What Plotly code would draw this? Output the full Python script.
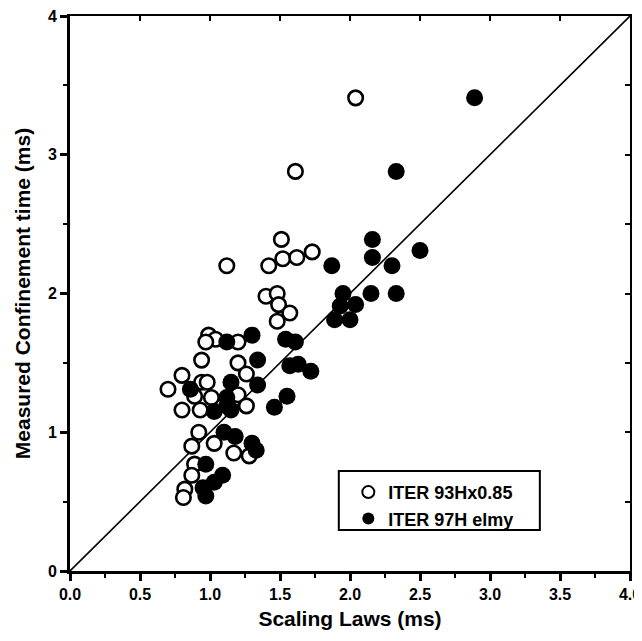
import plotly.graph_objects as go

# ITER 93Hx0.85 (open circles)
open_x = [2.04, 1.61, 1.51, 1.42, 1.52, 1.62, 1.73, 1.12, 1.40, 1.48, 1.49, 1.57, 1.48,
          0.99, 1.04, 1.20, 0.97, 0.94, 1.20, 1.26, 0.80, 0.70, 0.94, 0.89, 1.01, 1.20,
          0.80, 0.93, 1.26, 0.92, 0.87, 1.03, 1.17, 1.28, 0.89, 0.87, 0.82, 0.81, 0.98]
open_y = [3.41, 2.88, 2.39, 2.20, 2.25, 2.26, 2.30, 2.20, 1.98, 2.00, 1.92, 1.86, 1.80,
          1.70, 1.67, 1.65, 1.65, 1.52, 1.50, 1.42, 1.41, 1.31, 1.36, 1.26, 1.25, 1.27,
          1.16, 1.16, 1.19, 1.00, 0.90, 0.92, 0.85, 0.83, 0.77, 0.69, 0.59, 0.53, 1.36]

# ITER 97H elmy (filled circles)
fill_x = [2.89, 2.33, 2.16, 2.16, 2.30, 2.50, 1.87, 1.95, 2.15, 2.33, 2.04, 1.93, 1.89,
          2.00, 1.30, 1.54, 1.61, 1.12, 1.34, 1.63, 1.72, 1.57, 1.34, 1.15, 0.86, 1.12,
          1.15, 1.55, 1.46, 1.03, 1.12, 1.10, 1.18, 1.30, 1.33, 0.97, 1.09, 1.03, 0.95, 0.97]
fill_y = [3.41, 2.88, 2.39, 2.26, 2.20, 2.31, 2.20, 2.00, 2.00, 2.00, 1.92, 1.91, 1.81,
          1.81, 1.70, 1.67, 1.65, 1.65, 1.52, 1.49, 1.44, 1.48, 1.34, 1.36, 1.31, 1.25,
          1.16, 1.26, 1.18, 1.15, 1.19, 1.00, 0.97, 0.92, 0.87, 0.77, 0.69, 0.64, 0.60, 0.54]

diag = [0, 4]
x_ticks = [0, 0.5, 1, 1.5, 2, 2.5, 3, 3.5, 4]
y_ticks = [0, 1, 2, 3, 4]

font_family = "Liberation Sans, Arial, sans-serif"

fig = go.Figure()
fig.add_trace(go.Scatter(x=diag, y=diag, mode="lines", line=dict(color="black", width=1.6),
                         showlegend=False, hoverinfo="skip"))
fig.add_trace(go.Scatter(x=open_x, y=open_y, mode="markers", name="<b>ITER 93Hx0.85</b>",
                         marker=dict(symbol="circle", size=14.5, color="white",
                                     line=dict(color="black", width=2.6))))
fig.add_trace(go.Scatter(x=fill_x, y=fill_y, mode="markers", name="<b>ITER 97H elmy</b>",
                         marker=dict(symbol="circle", size=17, color="black",
                                     line=dict(color="black", width=0))))
# invisible trace to host the top/right tick axes
fig.add_trace(go.Scatter(x=[0], y=[0], xaxis="x2", yaxis="y2", mode="markers",
                         marker=dict(opacity=0), showlegend=False, hoverinfo="skip"))

fig.update_layout(
    width=634, height=633,
    margin=dict(l=62, r=12, t=8, b=70),
    paper_bgcolor="white", plot_bgcolor="white",
    font=dict(family=font_family, color="black"),
    xaxis=dict(range=[0, 4], tickvals=x_ticks,
               ticktext=["<b>%.1f</b>" % v for v in x_ticks], automargin=False,
               ticklabeloverflow="allow",
               ticks="outside", ticklen=7, tickwidth=2.5, tickcolor="black",
               minor=dict(dtick=0.25, ticks="outside", ticklen=4, tickwidth=2, tickcolor="black"),
               showline=True, linecolor="black", linewidth=3, showgrid=False, zeroline=False,
               tickfont=dict(size=16, family=font_family),
               title=dict(text="<b>Scaling Laws (ms)</b>", font=dict(size=21, family=font_family), standoff=10)),
    yaxis=dict(range=[0, 4], tickvals=y_ticks,
               ticktext=["<b>%d</b>" % v for v in y_ticks], automargin=False,
               ticklabeloverflow="allow",
               ticks="outside", ticklen=7, tickwidth=2.5, tickcolor="black",
               minor=dict(dtick=0.5, ticks="outside", ticklen=4, tickwidth=2, tickcolor="black"),
               showline=True, linecolor="black", linewidth=3, showgrid=False, zeroline=False,
               tickfont=dict(size=16, family=font_family),
               title=dict(text="<b>Measured Confinement time (ms)</b>", font=dict(size=21, family=font_family), standoff=12)),
    xaxis2=dict(range=[0, 4], overlaying="x", side="top", anchor="y", dtick=0.5,
                ticks="inside", ticklen=5, tickwidth=2, tickcolor="black", automargin=False,
                showticklabels=False, showline=True, linecolor="black", linewidth=2,
                showgrid=False, zeroline=False),
    yaxis2=dict(range=[0, 4], overlaying="y", side="right", anchor="x", dtick=0.5,
                ticks="inside", ticklen=5, tickwidth=2, tickcolor="black", automargin=False,
                showticklabels=False, showline=True, linecolor="black", linewidth=2,
                showgrid=False, zeroline=False),
    legend=dict(x=0.497, y=0.175, xanchor="left", yanchor="top",
                borderwidth=0, bgcolor="rgba(0,0,0,0)",
                font=dict(size=18, family=font_family), tracegroupgap=0,
                itemsizing="constant"),
    shapes=[dict(type="rect", xref="paper", yref="paper", x0=0.480, x1=0.839, y0=0.074, y1=0.180,
                 line=dict(color="black", width=2), fillcolor="white", layer="above")],
    showlegend=True,
)

fig.write_html("out.html")
